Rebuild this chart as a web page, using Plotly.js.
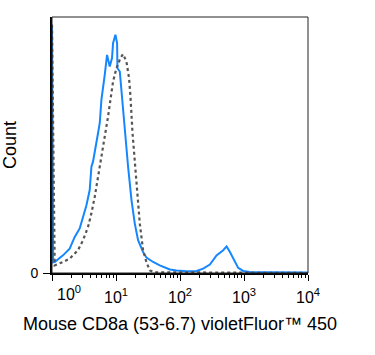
<!DOCTYPE html>
<html>
<head>
<meta charset="utf-8">
<script src="https://cdn.plot.ly/plotly-3.0.1.min.js"></script>
<style>html,body{margin:0;padding:0;background:#fff;}#chart{width:375px;height:355px;}</style>
</head>
<body>
<div id="chart"></div>
<script>
// Stained sample (blue, solid)
const stainedX = [1, 1.042, 1.102, 1.486, 1.888, 2.265, 2.71, 3.055, 3.451, 3.882, 4.13, 4.375, 4.656, 5.236, 5.572, 5.916, 6.668, 7.244, 7.98, 8.67, 8.995, 9.795, 10.4, 10.54, 11.46, 12.16, 13.71, 15.45, 17.46, 19.63, 22.13, 26.49, 29.92, 38.02, 48.31, 61.52, 69.3, 88.3, 126.5, 181.5, 230, 293, 372, 473, 535, 603, 721, 811, 972, 1237, 2254, 10000];
const stainedY = [97, 4.2, 4.3, 6.9, 9.5, 14.1, 17.4, 21.9, 26.5, 32.4, 41.5, 43.5, 48.0, 54.6, 58.5, 67.6, 77.4, 85.2, 80.7, 84.0, 89.8, 93.1, 89.8, 80.0, 78.7, 70.9, 54.6, 41.5, 28.5, 19.4, 12.8, 8.2, 6.0, 4.3, 3.0, 2.0, 1.4, 1.0, 0.65, 0.8, 1.7, 3.3, 6.9, 8.9, 10.4, 8.2, 4.3, 2.0, 0.8, 0.4, 0.3, 0.2];
// Isotype control (gray, dotted)
const controlX = [1, 1.102, 1.486, 1.888, 2.547, 3.055, 3.656, 4.13, 4.656, 5.572, 6.668, 7.516, 8.185, 8.995, 10.16, 11.75, 12.88, 14.55, 16.0, 16.83, 18.07, 20.09, 21.98, 23.55, 26.49, 29.92, 33.73, 40.36, 10000];
const controlY = [97, 3.0, 4.3, 5.6, 8.9, 12.8, 18.0, 23.3, 29.8, 41.5, 52.0, 61.1, 67.6, 74.8, 80.0, 84.0, 85.5, 82.6, 76.1, 69.0, 55.0, 41.5, 29.8, 19.3, 8.9, 4.2, 1.0, 0.3, 0];
// Axis labels
const xTickVals = [1, 10, 100, 1000, 10000];
const xTickText = ['', '10<sup>1</sup>', '10<sup>2</sup>', '10<sup>3</sup>', '10<sup>4</sup>'];
const firstTickText = '10<sup>0</sup>';
const xTitle = 'Mouse CD8a (53-6.7) violetFluor™ 450';
const yTitle = 'Count';

const font = 'Liberation Sans, Arial, sans-serif';
const data = [
  {x: stainedX, y: stainedY, type: 'scatter', mode: 'lines',
   line: {color: '#1487FF', width: 2}, hoverinfo: 'skip'},
  {x: controlX, y: controlY, type: 'scatter', mode: 'lines',
   line: {color: '#555555', width: 2.2, dash: 'dot'}, hoverinfo: 'skip'}
];
const layout = {
  width: 375, height: 355,
  margin: {l: 52, r: 67, t: 17, b: 82},
  paper_bgcolor: '#fff', plot_bgcolor: '#fff',
  showlegend: false,
  font: {family: font, color: '#000'},
  xaxis: {
    type: 'log', range: [0, 4],
    tickvals: xTickVals, ticktext: xTickText,
    ticks: 'outside', ticklen: 6, tickwidth: 1, tickcolor: '#000',
    minor: {ticks: 'outside', ticklen: 3, tickwidth: 1, tickcolor: '#000', dtick: 'D1', showgrid: false},
    showgrid: false, zeroline: false,
    showline: true, linecolor: '#000', linewidth: 1.5,
    tickfont: {size: 16, family: font, color: '#000'},
    ticklabelstandoff: 3,
    title: {text: xTitle, font: {size: 18, family: font, color: '#000'}, standoff: 12}
  },
  yaxis: {
    range: [0, 100],
    tickvals: [0], ticktext: ['0'],
    ticks: 'outside', ticklen: 7, tickwidth: 1, tickcolor: '#000',
    showgrid: false, zeroline: false,
    showline: true, linecolor: '#000', linewidth: 2,
    tickfont: {size: 14, family: font, color: '#000'},
    ticklabelstandoff: 2,
    title: {text: yTitle, font: {size: 18, family: font, color: '#000'}, standoff: 10}
  },
  shapes: [
    {type: 'rect', xref: 'paper', yref: 'paper', x0: 0, x1: 1, y0: 0, y1: 1,
     line: {color: '#222', width: 1}, fillcolor: 'rgba(0,0,0,0)'}
  ],
  annotations: [
    {text: firstTickText, xref: 'x', yref: 'paper', x: Math.log10(xTickVals[0]) + 0.27, y: 0,
     yanchor: 'top', xanchor: 'center', yshift: -8, showarrow: false,
     font: {size: 16, family: font, color: '#000'}}
  ]
};
Plotly.newPlot('chart', data, layout, {staticPlot: true, displayModeBar: false});
</script>
</body>
</html>
